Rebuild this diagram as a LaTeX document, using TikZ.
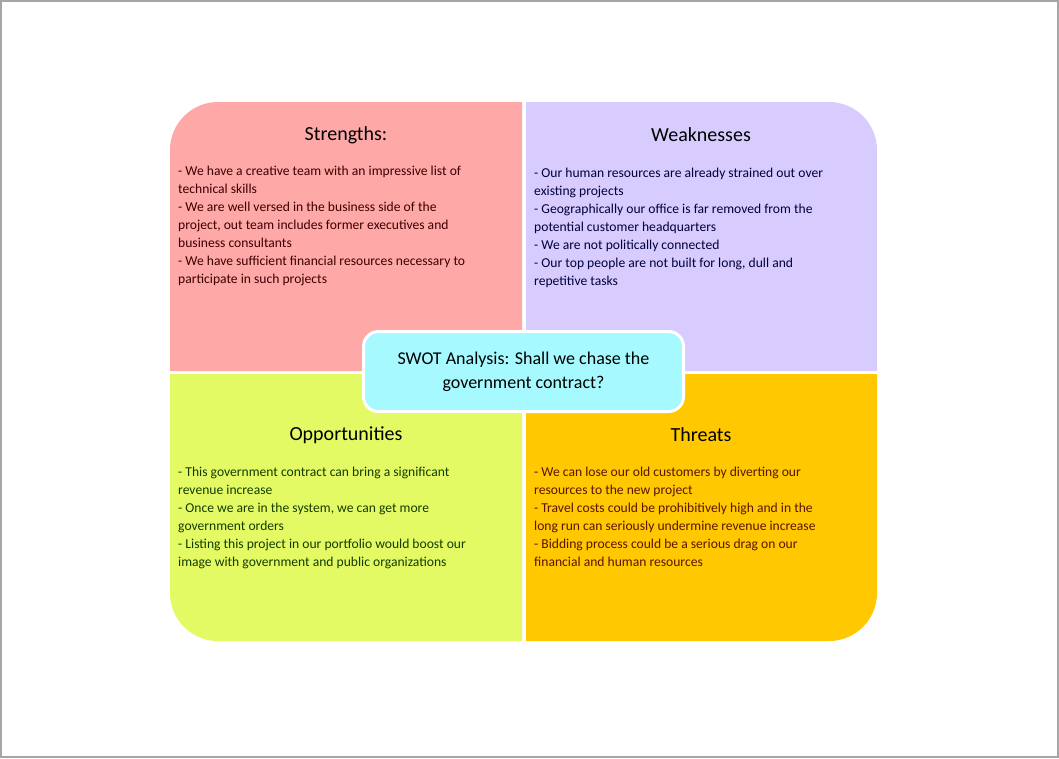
\documentclass[tikz,border=0pt]{standalone}
\usepackage{fontspec}
\setmainfont{Carlito}

\tikzset{
  quadtitle/.style={font=\fontsize{20}{24}\selectfont},
  quadtext/.style={anchor=north west,align=left,inner sep=0pt,
    font=\fontsize{13.6}{18}\selectfont},
}

\begin{document}
\begin{tikzpicture}[x=1pt,y=-1pt]
        \useasboundingbox(0,0)rectangle(1059,758);
        \draw[gray!70,line width=1.5pt](1,1)rectangle(1058,757);
        % quadrants
        \fill[red!35!white,fill={rgb,255:red,255;green,168;blue,168}](522,371)--(170,371)[rounded corners=48]--(170,102)[sharp corners]--(522,102)--cycle;
        \fill[fill={rgb,255:red,216;green,204;blue,255}](526,371)--(526,102)[rounded corners=48]--(877,102)[sharp corners]--(877,371)--cycle;
        \fill[fill={rgb,255:red,228;green,250;blue,100}](522,374)--(170,374)[rounded corners=48]--(170,641)[sharp corners]--(522,641)--cycle;
        \fill[fill={rgb,255:red,255;green,200;blue,0}](526,374)--(526,641)[rounded corners=48]--(877,641)[sharp corners]--(877,374)--cycle;

        \node[quadtitle](stitle)at(346,135){Strengths:};
        \node[quadtitle](wtitle)at(701,135){Weaknesses};
        \node[quadtitle](otitle)at(346,435){Opportunities};
        \node[quadtitle](ttitle)at(701,435){Threats};

        \node[quadtext,text={rgb,255:red,60;green,0;blue,0}](stext)at(178,166){- We have a creative team with an impressive list of\\technical skills\\- We are well versed in the business side of the\\project, out team includes former executives and\\business consultants\\- We have sufficient financial resources necessary to\\participate in such projects};
        \node[quadtext,text={rgb,255:red,0;green,0;blue,60}](wtext)at(534,168){- Our human resources are already strained out over\\existing projects\\- Geographically our office is far removed from the\\potential customer headquarters\\- We are not politically connected\\- Our top people are not built for long, dull and\\repetitive tasks};
        \node[quadtext,text={rgb,255:red,20;green,60;blue,0}](otext)at(178,467){- This government contract can bring a significant\\revenue increase\\- Once we are in the system, we can get more\\government orders\\- Listing this project in our portfolio would boost our\\image with government and public organizations};
        \node[quadtext,text={rgb,255:red,90;green,20;blue,0}](ttext)at(534,467){- We can lose our old customers by diverting our\\resources to the new project\\- Travel costs could be prohibitively high and in the\\long run can seriously undermine revenue increase\\- Bidding process could be a serious drag on our\\financial and human resources};

        % centre question
        \node[draw=white,line width=3pt,rounded corners=15,fill={rgb,255:red,166;green,250;blue,255},
          minimum width=320,minimum height=80,align=center,
          font=\fontsize{18}{24}\selectfont](centre)at(523.5,371.5){SWOT Analysis: Shall we chase the\\government contract?};
    \end{tikzpicture}
\end{document}
